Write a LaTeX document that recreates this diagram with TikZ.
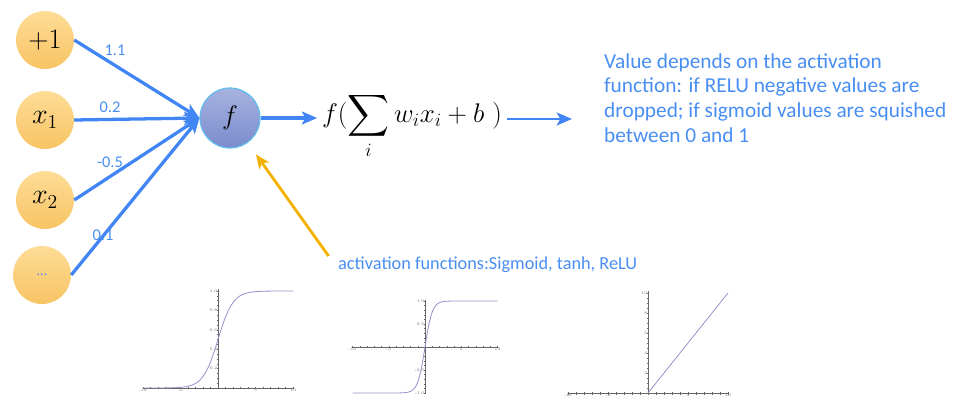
\RequirePackage{fix-cm}
\documentclass[tikz,border=0pt]{standalone}
\usepackage{amsmath}
\usepackage{fontspec}
\newfontfamily\calibri{Carlito}
\usetikzlibrary{arrows.meta, positioning}

\definecolor{wblue}{RGB}{66,133,244}
\definecolor{txtblue}{RGB}{72,142,242}
\definecolor{intop}{RGB}{253,220,150}
\definecolor{inbot}{RGB}{248,196,100}
\definecolor{ftop}{RGB}{166,178,224}
\definecolor{fbot}{RGB}{122,140,204}
\definecolor{fring}{RGB}{95,190,235}
\definecolor{actyellow}{RGB}{244,178,0}
\definecolor{curvepurple}{RGB}{150,146,202}

\begin{document}
\begin{tikzpicture}[x=0.03cm, y=-0.03cm,
    input/.style={circle, minimum size=1.74cm, inner sep=0pt, top color=intop, bottom color=inbot, font=\fontsize{24}{24}\selectfont},
    neuron/.style={circle, minimum size=1.8cm, inner sep=0pt, draw=fring, line width=1pt, top color=ftop, bottom color=fbot, font=\fontsize{23}{23}\selectfont},
    weight/.style={-{Stealth[length=13pt, width=11pt, inset=3pt]}, wblue, line width=2.8pt},
    wlabel/.style={text=txtblue, font=\calibri\fontsize{14}{14}\selectfont, inner sep=0pt},
    axis/.style={black!60, line width=0.35pt},
    curve/.style={curvepurple, line width=0.7pt},
    ticklabel/.style={font=\fontsize{3.5}{4}\selectfont, text=black!60, inner sep=0.6pt}]

    % fixed frame (pixels of the reference)
    \useasboundingbox (0,0) rectangle (956,401);

    % inputs and the neuron
    \node[input] (one) at (45,40) {$+1$};
    \node[input] (xone) at (45,120) {$x_1$};
    \node[input] (xtwo) at (45,200) {$x_2$};
    \node[input, font=\calibri\fontsize{12}{12}\selectfont, text=txtblue] (more) at (42,275) {...};
    \node[neuron] (f) at (230,118) {$f$};

    % weighted inputs
    \draw[weight] (one.east) -- (f.west);
    \draw[weight] (xone.east) -- (f.west);
    \draw[weight] (xtwo.east) -- (f.west);
    \draw[weight] (more.east) -- (f.west);

    \node[wlabel] at (115,50) {1.1};
    \node[wlabel] at (110,107) {0.2};
    \node[wlabel] at (110,162) {-0.5};
    \node[wlabel] at (103,235) {0.1};

    % output formula and note
    \node[inner sep=4pt, font=\fontsize{23}{23}\selectfont] (sum) at (412,126)
        {$\displaystyle f(\sum_i w_i x_i + b\ )$};
    \draw[weight] (f.east) -- (sum.west |- f.east);

    \node[anchor=north west, inner sep=0pt, align=left, text=txtblue,
          font=\calibri\fontsize{18.2}{21.3}\selectfont] (note) at (604,53)
        {Value depends on the activation\\
         function: if RELU negative values are\\
         dropped; if sigmoid values are squished\\
         between 0 and 1};
    \coordinate (notein) at (572,119);
    \draw[weight, line width=2.3pt] (sum.east |- notein) -- (notein);

    % activation functions
    \node[anchor=base west, inner sep=0pt, text=txtblue,
          font=\calibri\fontsize{15.6}{15.6}\selectfont] (acts) at (338,269)
        {activation functions:Sigmoid, tanh, ReLU};
    \draw[-{Stealth[length=12pt, width=10pt, inset=3pt]}, actyellow, line width=2.4pt, shorten >=12pt]
        ([xshift=-8pt]acts.north west) -- (f);

    % sigmoid
    \begin{scope}[shift={(218,388)}, x=0.225cm, y=2.91cm]
        \draw[axis] (-10,0) -- (10,0);
        \draw[axis] (0,0) -- (0,1.02);
        \foreach \t in {-10,...,10}
            \draw[axis] (\t,-0.015) -- (\t,0.015);
        \foreach \t in {1,...,20}
            \draw[axis] (-0.12,\t/20) -- (0.12,\t/20);
        \foreach \t in {-10,-5,5,10}
            \node[ticklabel, below] at (\t,0) {\t};
        \foreach \t in {0.2,0.4,0.6,0.8,1.0}
            \node[ticklabel, left] at (0,\t) {\t};
        \draw[curve] (-10,0) -- (-8,0.0003)
            plot[domain=-8:8, samples=100] (\x, {1/(1+exp(-\x))}) -- (10,1);
    \end{scope}

    % tanh
    \begin{scope}[shift={(425,347)}, x=0.2175cm, y=1.38cm]
        \draw[axis] (-10,0) -- (10,0);
        \draw[axis] (0,-1.02) -- (0,1.02);
        \foreach \t in {-10,...,10}
            \draw[axis] (\t,-0.03) -- (\t,0.03);
        \foreach \t in {-10,...,10}
            \draw[axis] (-0.12,\t/10) -- (0.12,\t/10);
        \foreach \t in {-10,-5,5,10}
            \node[ticklabel, below] at (\t,0) {\t};
        \foreach \t in {1.0,0.5,-0.5,-1.0}
            \node[ticklabel, left] at (0,\t) {\t};
        \draw[curve] (-10,-1) -- (-4,-0.9993)
            plot[domain=-4:4, samples=100] (\x, {tanh(\x)}) -- (10,1);
    \end{scope}

    % relu
    \begin{scope}[shift={(648,393)}, x=0.24cm, y=0.3cm]
        \draw[axis] (-10,0) -- (10,0);
        \draw[axis] (0,0) -- (0,10.2);
        \foreach \t in {-10,...,10}
            \draw[axis] (\t,-0.15) -- (\t,0.15);
        \foreach \t in {1,...,20}
            \draw[axis] (-0.12,\t/2) -- (0.12,\t/2);
        \foreach \t in {-10,-5,5,10}
            \node[ticklabel, below] at (\t,0) {\t};
        \foreach \t in {2,4,6,8,10}
            \node[ticklabel, left] at (0,\t) {\t};
        \draw[curve] (0,0) -- (10,10);
    \end{scope}

\end{tikzpicture}
\end{document}
